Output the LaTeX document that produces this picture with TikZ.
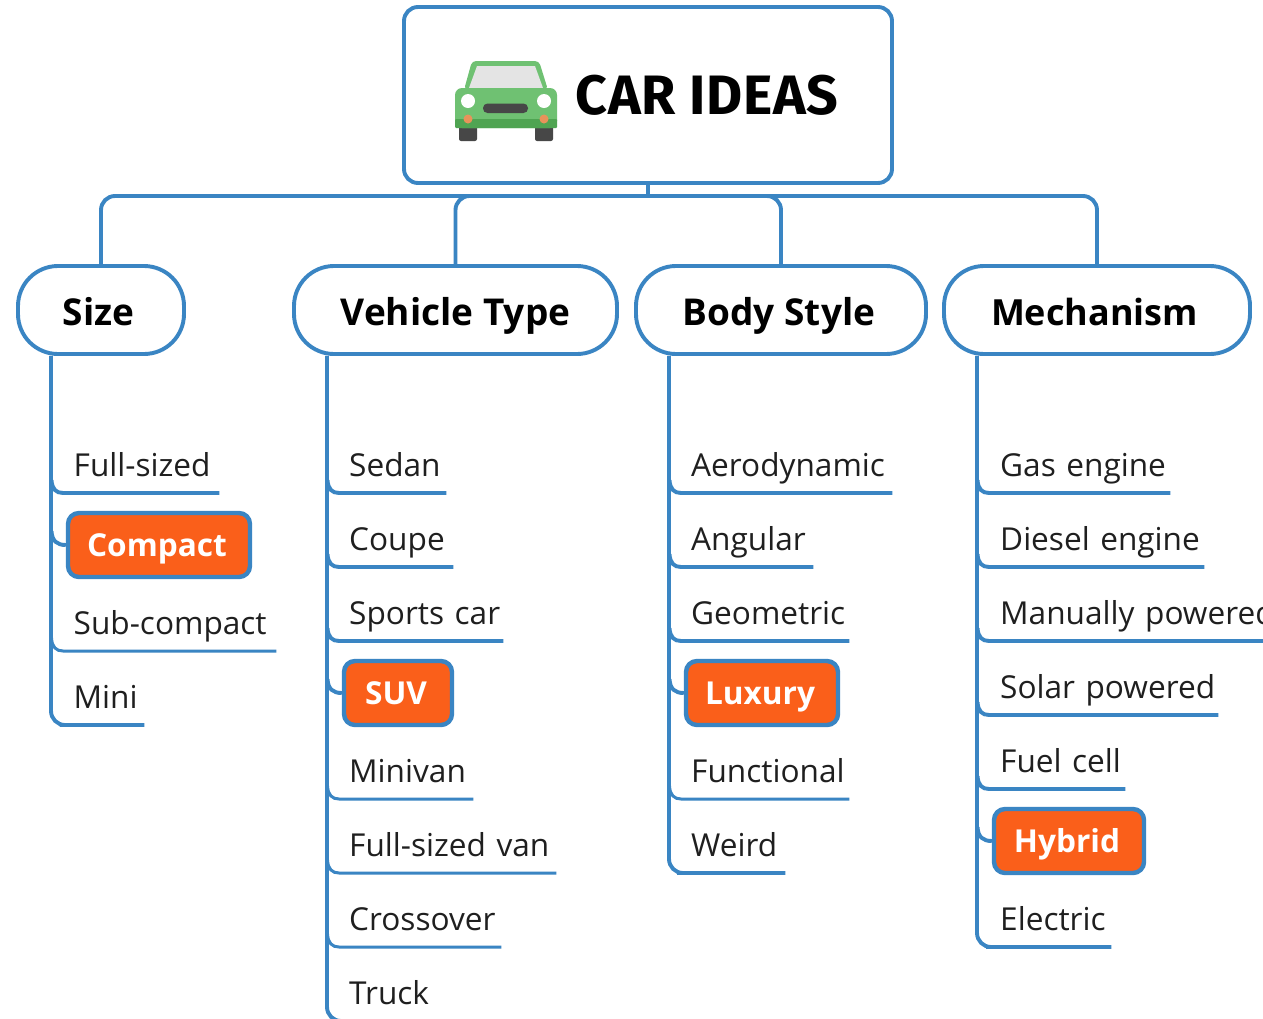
\documentclass[tikz,border=0pt]{standalone}
\usepackage{fontspec}
\setmainfont{Open Sans}
\newfontfamily\titlefont[LetterSpace=1.2]{Fira Sans}
\usetikzlibrary{calc}
\definecolor{linkblue}{HTML}{3A85C3}
\definecolor{hot}{HTML}{FA5F1A}
\definecolor{carg}{HTML}{6FC172}
\definecolor{cardk}{HTML}{4FA452}
\definecolor{cargray}{HTML}{E4E4E4}
\definecolor{carblack}{HTML}{474747}
\definecolor{carorange}{HTML}{E8935A}
\tikzset{
  link/.style={draw=linkblue,line width=3.9pt},
  thinlink/.style={draw=linkblue,line width=3pt},
  rootbox/.style={draw=linkblue,line width=3.9pt,fill=white,rounded corners=14pt,minimum width=488pt,minimum height=176pt,inner sep=0pt,font=\titlefont\bfseries\fontsize{55.5}{55}\selectfont},
  groupbox/.style={draw=linkblue,line width=3.9pt,fill=white,rounded corners=40pt,minimum height=88pt,inner sep=0pt,text height=38pt,text depth=8pt,font=\bfseries\fontsize{37}{42}\selectfont},
  itemtext/.style={anchor=south west,inner sep=0pt,text height=24pt,text depth=16pt,font=\fontsize{31.6}{38}\selectfont,text=black!88},
  hotbox/.style={draw=linkblue,line width=4.4pt,fill=hot,rounded corners=11pt,minimum height=64pt,inner sep=0pt,text=white,text height=30pt,text depth=8pt,font=\bfseries\fontsize{31.6}{36}\selectfont},
}
% [line style], name, text, trunk coordinate, text left, line right, line y
\newcommand{\branchitem}[7][link]{%
  \node[itemtext,text width=\dimexpr #6pt-#5pt\relax] (#2) at (#5,#7) {\mbox{#3}};
  \draw[#1] ($(#4 |- #2.south)+(0.5,-13)$) .. controls ($(#4 |- #2.south)+(1,-4)$) and ($(#4 |- #2.south)+(5,0)$) .. ($(#4 |- #2.south)+(12,0)$) -- (#2.south west) -- (#2.south east);
}
\newcommand{\hotitem}[6]{%
  \node[hotbox,minimum width=#5pt-#4pt] (#1) at ({(#4+#5)/2},#6) {\hspace*{-4pt}#2};
  \draw[link] ($(#3 |- #1.west)+(0.5,-14)$) .. controls ($(#3 |- #1.west)+(1,-4)$) and ($(#3 |- #1.west)+(6,0)$) .. (#1.west);
}
\begin{document}
\begin{tikzpicture}[x=1pt,y=-1pt]
\useasboundingbox (0,0) rectangle (1263,1018);
\clip (0,0) rectangle (1263,1018);
\fill[white] (0,0) rectangle (1263,1018);

% root and groups
\node[rootbox] (root) at (648,95) {\hspace*{118pt}CAR IDEAS};
\node[groupbox,minimum width=166pt] (size) at (101,310) {\hspace*{-5pt}Size};
\node[groupbox,minimum width=323pt] (vehicle) at (455.5,310) {Vehicle Type};
\node[groupbox,minimum width=290pt] (body) at (781,310) {\hspace*{-4pt}Body Style};
\node[groupbox,minimum width=306pt,font=\bfseries\fontsize{36}{42}\selectfont] (mech) at (1097,310) {\hspace*{-5pt}Mechanism};

\coordinate (bus) at (root.south |- 0,196);
\draw[link] (root.south) -- (bus);
\draw[link,rounded corners=14pt] (bus) -| (size.north);
\draw[link,rounded corners=14pt] (bus) -| (vehicle.north);
\draw[link,rounded corners=14pt] (bus) -| (body.north);
\draw[link,rounded corners=14pt] (bus) -| (mech.north);

% car icon
\fill[carblack,rounded corners=2pt] (459,125) rectangle (477,141);
\fill[carblack,rounded corners=2pt] (535,125) rectangle (553,141);
\fill[carg,rounded corners=4pt] (464,90) -- (472,61) -- (539,61) -- (548,90) -- cycle;
\fill[cargray] (469,88) -- (477,66) -- (535,66) -- (543,88) -- cycle;
\fill[carg,rounded corners=7pt] (455,128) -- (455,88) -- (557,88) -- (557,128) -- cycle;
\fill[cardk,rounded corners=1pt] (455,119) rectangle (557,128);
\fill[white] (468,101) circle (7);
\fill[white] (544,101) circle (7);
\fill[carorange] (468,119) circle (4.5);
\fill[carorange] (544,119) circle (4.5);
\fill[carblack,rounded corners=4.5pt] (483,103.5) rectangle (528,113);

% Size
\coordinate (t1) at (size.south -| 51,0);
\branchitem{fullsized}{Full-sized}{t1}{73.5}{219}{493}
\hotitem{compact}{Compact}{t1}{68}{250}{545}
\branchitem[thinlink]{subcompact}{Sub-compact}{t1}{73.5}{276}{651}
\node[itemtext,text width=70.5pt] (mini) at (73.5,725) {\mbox{Mini}};
\draw[link,rounded corners=14pt] (t1) |- (mini.south west) -- (mini.south east);

% Vehicle Type
\coordinate (t2) at (vehicle.south -| 327,0);
\branchitem{sedan}{Sedan}{t2}{349}{446}{493}
\branchitem{coupe}{Coupe}{t2}{349}{453}{567}
\branchitem{sports}{Sports car}{t2}{349}{503}{641}
\hotitem{suv}{SUV}{t2}{344}{452}{693}
\branchitem[thinlink]{minivan}{Minivan}{t2}{349}{473}{799}
\branchitem[thinlink]{fullvan}{Full-sized van}{t2}{349}{556}{873}
\branchitem[thinlink]{crossover}{Crossover}{t2}{349}{501}{947}
\node[itemtext,text width=100pt] (truck) at (349,1021) {\mbox{Truck}};
\draw[link,rounded corners=14pt] (t2) |- (truck.south west) -- (truck.south east);

% Body Style
\coordinate (t3) at (body.south -| 669,0);
\branchitem{aero}{Aerodynamic}{t3}{691}{892}{493}
\branchitem{angular}{Angular}{t3}{691}{813}{567}
\branchitem{geometric}{Geometric}{t3}{691}{849}{641}
\hotitem{luxury}{Luxury}{t3}{686}{838}{693}
\branchitem[thinlink]{functional}{Functional}{t3}{691}{849}{799}
\node[itemtext,text width=94pt] (weird) at (691,873) {\mbox{Weird}};
\draw[link,rounded corners=14pt] (t3) |- (weird.south west) -- (weird.south east);

% Mechanism
\coordinate (t4) at (mech.south -| 977,0);
\branchitem{gas}{Gas engine}{t4}{1000}{1170}{493}
\branchitem{diesel}{Diesel engine}{t4}{1000}{1204}{567}
\branchitem{manual}{Manually powered}{t4}{1000}{1290}{641}
\branchitem{solar}{Solar powered}{t4}{1000}{1218}{715}
\branchitem{fuel}{Fuel cell}{t4}{1000}{1125}{789}
\hotitem{hybrid}{Hybrid}{t4}{994}{1144}{841}
\node[itemtext,text width=111pt] (electric) at (1000,947) {\mbox{Electric}};
\draw[link,rounded corners=14pt] (t4) |- (electric.south west) -- (electric.south east);
\end{tikzpicture}
\end{document}
